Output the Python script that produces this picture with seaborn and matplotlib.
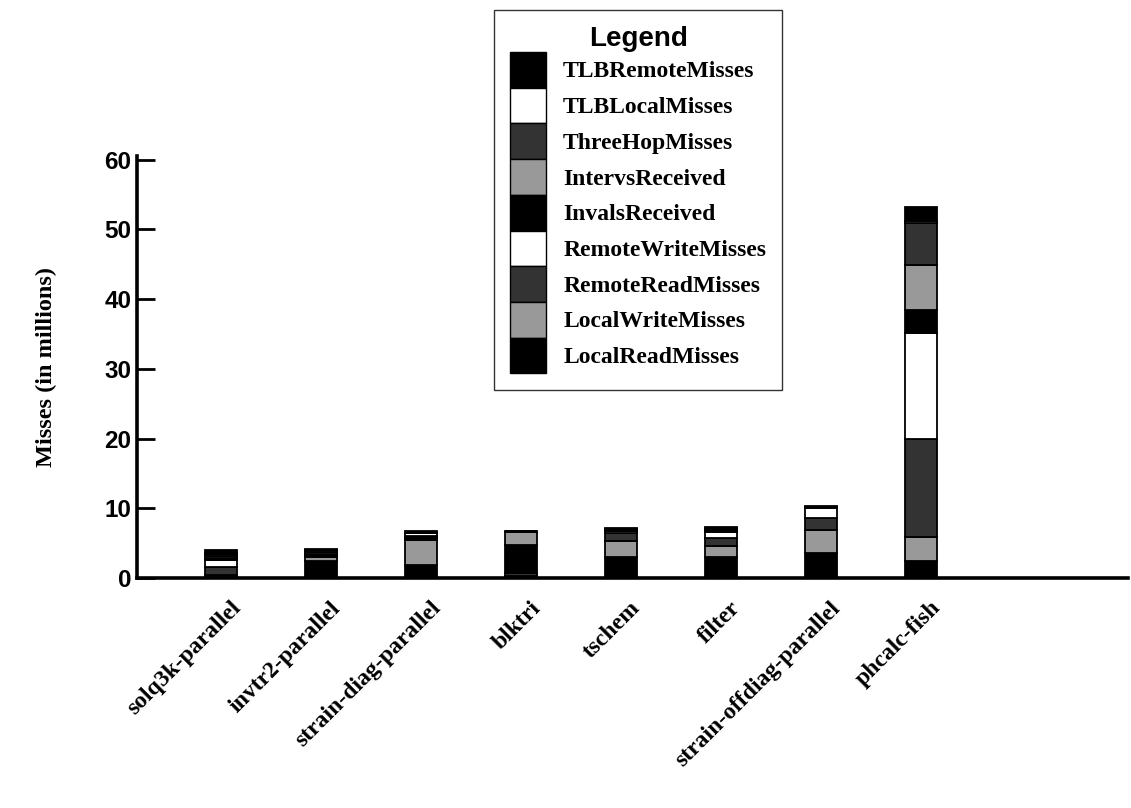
import numpy as np
import matplotlib
matplotlib.use("Agg")
import matplotlib.pyplot as plt
from matplotlib.patches import Patch
import matplotlib.transforms as mtransforms
import seaborn as sns

benchmarks = ["solq3k-parallel", "invtr2-parallel", "strain-diag-parallel", "blktri",
              "tschem", "filter", "strain-offdiag-parallel", "phcalc-fish"]

# Miss counts in millions, one list per category (stacked bottom to top)
local_read_misses   = [0.10, 2.40, 1.80, 0.20, 3.06, 3.05, 3.54, 2.39]
local_write_misses  = [0.38, 0.55, 3.70, 0.15, 2.30, 1.50, 3.35, 3.49]
remote_read_misses  = [1.10, 0.25, 0.30, 0.30, 1.05, 1.25, 1.67, 14.10]
remote_write_misses = [1.05, 0.10, 0.05, 0.00, 0.29, 0.85, 1.48, 15.16]
invals_received     = [0.29, 0.10, 0.05, 4.10, 0.10, 0.10, 0.05, 3.35]
intervs_received    = [0.19, 0.35, 0.05, 1.90, 0.10, 0.10, 0.05, 6.46]
three_hop_misses    = [0.38, 0.20, 0.05, 0.05, 0.10, 0.20, 0.05, 6.00]
tlb_local_misses    = [0.14, 0.05, 0.50, 0.00, 0.05, 0.05, 0.03, 0.30]
tlb_remote_misses   = [0.38, 0.20, 0.20, 0.05, 0.13, 0.25, 0.15, 1.90]

series = [
    ("LocalReadMisses", local_read_misses, "#000000"),
    ("LocalWriteMisses", local_write_misses, "#999999"),
    ("RemoteReadMisses", remote_read_misses, "#333333"),
    ("RemoteWriteMisses", remote_write_misses, "#ffffff"),
    ("InvalsReceived", invals_received, "#000000"),
    ("IntervsReceived", intervs_received, "#999999"),
    ("ThreeHopMisses", three_hop_misses, "#333333"),
    ("TLBLocalMisses", tlb_local_misses, "#ffffff"),
    ("TLBRemoteMisses", tlb_remote_misses, "#000000"),
]

y_ticks = [0, 10, 20, 30, 40, 50, 60]

sns.set_theme(style="white")
plt.rcParams["font.family"] = ["Liberation Sans", "DejaVu Sans"]
plt.rcParams["text.color"] = "black"
plt.rcParams["axes.labelcolor"] = "black"
plt.rcParams["xtick.color"] = "black"
plt.rcParams["ytick.color"] = "black"

SERIF = ["Liberation Serif", "DejaVu Serif"]
SANS = ["Liberation Sans", "DejaVu Sans"]

fig = plt.figure(figsize=(11.31, 8.08), dpi=100)
ax = fig.add_axes([0.1211, 0.2847, 0.8762, 0.5219])

bottom = np.zeros(len(benchmarks))
for name, vals, col in series:
    vals = np.asarray(vals, dtype=float)
    sns.barplot(x=benchmarks, y=vals, bottom=bottom, color=col, saturation=1,
                width=0.32, edgecolor="black", linewidth=1.3, ax=ax)
    bottom = bottom + vals

ax.set_xlim(-0.84, 9.07)
ax.set_ylim(0, 60.5)
ax.set_yticks(y_ticks)
ax.set_yticklabels([str(t) for t in y_ticks], fontsize=17.5, fontweight="bold",
                   family=SANS, color="black")

for s in ["top", "right"]:
    ax.spines[s].set_visible(False)
for s in ["left", "bottom"]:
    ax.spines[s].set_linewidth(2.6)
    ax.spines[s].set_color("black")

ax.tick_params(axis="y", direction="in", length=13, width=2, pad=4, left=True)
ax.tick_params(axis="x", length=0, pad=14)

ax.set_xticks(range(len(benchmarks)))
ax.set_xticklabels(benchmarks, rotation=45, ha="right", va="top",
                   rotation_mode="anchor", fontsize=17, fontweight="bold",
                   family=SERIF, color="black")
offset = mtransforms.ScaledTranslation(9 / 100, 0, fig.dpi_scale_trans)
for lbl in ax.get_xticklabels():
    lbl.set_transform(lbl.get_transform() + offset)

ax.set_xlabel("")
ax.set_ylabel("Misses (in millions)", fontsize=17.5, fontweight="bold",
              family=SERIF, color="black", labelpad=34)

handles = [Patch(facecolor=col, edgecolor="black", linewidth=1.0, label=name)
           for name, _, col in reversed(series)]
leg = ax.legend(handles=handles, loc="upper left",
                bbox_to_anchor=(494 / 1131, 1 - 10 / 808), bbox_transform=fig.transFigure,
                frameon=True, fancybox=False, shadow=False,
                prop={"family": SERIF, "weight": "bold", "size": 17},
                title="Legend", title_fontproperties={"family": SANS,
                                                      "weight": "bold", "size": 20},
                handlelength=1.53, handleheight=1.95, labelspacing=0.0,
                handletextpad=0.72, borderpad=0.68, borderaxespad=0)
leg.get_frame().set_edgecolor("black")
leg.get_frame().set_linewidth(1.0)
for t in leg.get_texts():
    t.set_color("black")
leg.get_title().set_color("black")

fig.savefig("out.png", dpi=100, facecolor="white")
